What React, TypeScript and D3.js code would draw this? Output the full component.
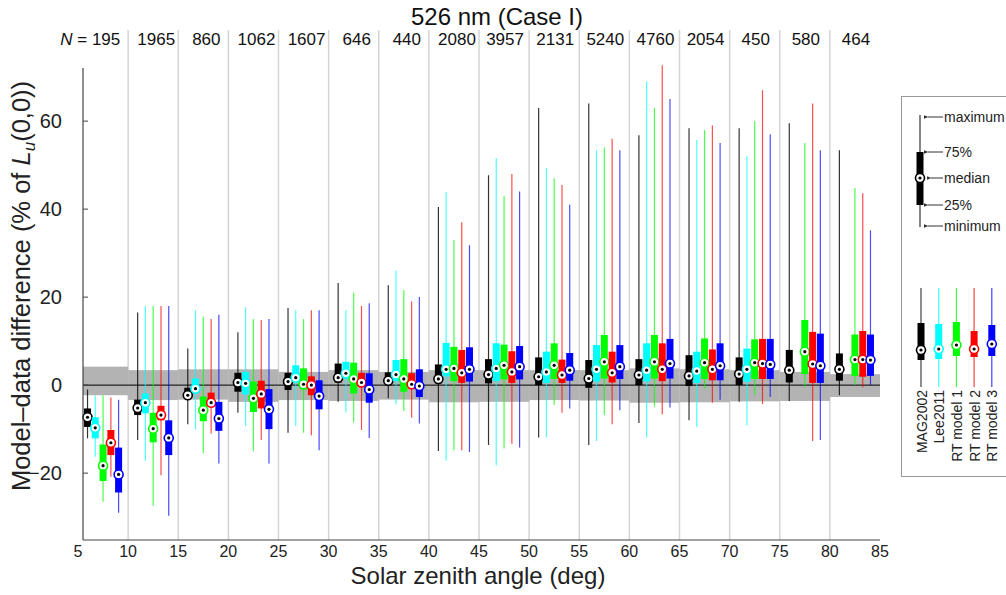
import React from 'react';
import * as d3 from 'd3';

const groupStarts = [5, 10, 15, 20, 25, 30, 35, 40, 45, 50, 55, 60, 65, 70, 75, 80];
const nLabels = ['195', '1965', '860', '1062', '1607', '646', '440', '2080', '3957', '2131', '5240', '4760', '2054', '450', '580', '464'];
const xTicks = [5, 10, 15, 20, 25, 30, 35, 40, 45, 50, 55, 60, 65, 70, 75, 80, 85];
const yTicks = [-20, 0, 20, 40, 60];
const models = ['MAG2002', 'Lee2011', 'RT model 1', 'RT model 2', 'RT model 3'];
const colors = ['#000000', '#00ffff', '#00ff00', '#ff0000', '#0000ff'];
const modelOffsets = [-1.55, -0.78, 0, 0.78, 1.55];

const bandLow = [-2.3, -3.4, -3.3, -3.8, -3.4, -3.6, -3.3, -3.9, -3.8, -3.4, -3.5, -4.0, -3.9, -3.7, -3.6, -2.7];
const bandHigh = [4.2, 3.4, 3.6, 3.6, 3.0, 3.4, 3.0, 3.4, 3.4, 3.4, 3.4, 3.8, 3.6, 3.4, 3.0, 2.5];

type Arr = (number | null)[];

// MAG2002
const magMed: Arr = [-7.3, -5.2, -2.3, 0.6, 0.8, 1.7, 1.0, 1.4, 2.4, 1.9, 1.5, 2.3, 2.1, 2.5, 3.4, 3.6];
const magQ1: Arr = [-9.5, -6.8, -2.8, -1.5, -1.1, 0.6, 0.2, 0.4, 0.4, 0.0, -0.6, 0.0, -0.2, 0.0, 0.6, 1.0];
const magQ3: Arr = [-5.3, -3.3, -0.6, 2.8, 2.8, 4.9, 2.9, 4.7, 5.9, 6.3, 5.7, 5.9, 6.8, 6.3, 8.0, 7.2];
const magMin: Arr = [-12.1, -12.5, -8.9, -6.3, -10.8, -3.8, -3.0, -15.0, -13.6, -11.9, -13.6, -8.6, -8.0, -3.8, -3.6, -2.3];
const magMax: Arr = [-1.0, 16.5, 8.3, 12.0, 17.5, 23.2, 22.7, 40.5, 47.7, 63.0, 64.0, 56.8, 58.4, 58.4, 59.5, 53.4];

// Lee2011
const leeMed: Arr = [-9.7, -4.0, -0.8, 0.4, 1.7, 2.7, 2.4, 3.6, 3.8, 3.0, 3.6, 3.4, 3.2, 3.6, null, null];
const leeQ1: Arr = [-12.1, -6.4, -1.7, -2.1, 0.8, 1.5, 0.9, 2.0, 0.9, 0.5, 0.8, 0.8, 0.5, 0.8, null, null];
const leeQ3: Arr = [-7.3, -1.9, 1.5, 3.0, 4.5, 5.3, 5.7, 9.6, 9.5, 7.6, 9.1, 9.5, 7.6, 8.3, null, null];
const leeMin: Arr = [-16.3, -17.2, -10.1, -9.3, -9.3, -6.2, -4.4, -17.2, -18.2, -11.9, -12.7, -11.9, -9.5, -9.1, null, null];
const leeMax: Arr = [-2.3, 18.0, 17.0, 17.7, 17.0, 17.0, 26.0, 43.9, 51.6, 49.3, 53.4, 69.0, 55.7, 52.0, null, null];

// RT model 1
const rt1Med: Arr = [-18.3, -9.9, -5.7, -3.0, 0.2, 1.4, 1.4, 3.8, 4.5, 4.5, 5.3, 5.3, 5.1, 5.1, 7.6, 5.8];
const rt1Q1: Arr = [-21.8, -13.0, -8.2, -6.1, -1.0, -1.9, -1.5, 0.9, 1.3, 1.4, 1.5, 1.5, 1.4, 1.4, 2.5, 2.1];
const rt1Q3: Arr = [-13.5, -6.3, -2.6, 0.8, 3.8, 5.1, 5.9, 8.7, 9.2, 9.5, 11.4, 11.4, 10.6, 10.4, 14.8, 11.5];
const rt1Min: Arr = [-26.5, -27.4, -15.5, -15.0, -10.8, -8.5, -5.9, -14.8, -14.4, -4.5, -6.8, -4.9, -0.8, -2.3, -0.5, 0.0];
const rt1Max: Arr = [-2.3, 18.0, 15.5, 15.0, 15.0, 21.0, 21.6, 33.0, 43.0, 47.0, 54.0, 63.0, 58.0, 60.0, 55.0, 44.8];

// RT model 2
const rt2Med: Arr = [-13.1, -6.8, -4.0, -2.0, 0.0, 0.6, 0.2, 2.8, 3.0, 2.3, 2.8, 3.6, 3.6, 4.9, 4.8, 5.8];
const rt2Q1: Arr = [-15.9, -8.0, -4.9, -5.3, -2.3, -0.4, -0.8, 0.5, 0.5, 0.5, 0.6, 0.9, 1.1, 1.4, 0.5, 1.9];
const rt2Q3: Arr = [-10.2, -4.7, -1.7, 1.0, 2.0, 2.8, 2.7, 8.0, 7.7, 5.8, 7.6, 9.5, 8.1, 10.5, 12.1, 12.3];
const rt2Min: Arr = [-20.8, -20.5, -11.0, -12.5, -11.4, -10.2, -7.4, -14.8, -13.3, -6.3, -8.9, -6.6, -4.0, -4.3, -12.7, -0.5];
const rt2Max: Arr = [-2.8, 18.0, 15.0, 14.8, 17.0, 18.0, 19.0, 37.0, 48.0, 45.5, 56.0, 72.7, 59.0, 67.0, 64.0, 43.6];

// RT model 3
const rt3Med: Arr = [-20.3, -12.0, -7.6, -5.5, -2.5, -1.0, -0.2, 3.6, 4.2, 3.4, 4.2, 4.9, 4.4, 4.7, 4.4, 5.7];
const rt3Q1: Arr = [-24.4, -15.9, -10.4, -10.0, -5.5, -4.0, -2.7, 0.8, 1.3, 1.0, 1.4, 1.5, 1.1, 1.4, 0.5, 2.1];
const rt3Q3: Arr = [-14.2, -8.0, -3.8, -0.9, 1.1, 2.7, 3.6, 8.6, 8.9, 7.3, 9.1, 10.5, 9.5, 10.5, 11.7, 11.5];
const rt3Min: Arr = [-29.0, -29.7, -17.8, -17.8, -14.8, -12.0, -8.7, -15.2, -14.2, -5.3, -5.7, -5.1, -3.3, -2.7, -12.5, 0.0];
const rt3Max: Arr = [-3.3, 18.0, 16.0, 15.0, 17.0, 18.6, 20.0, 31.8, 44.0, 41.0, 53.4, 65.0, 55.0, 57.0, 53.4, 35.2];

const seriesMed = [magMed, leeMed, rt1Med, rt2Med, rt3Med];
const seriesQ1 = [magQ1, leeQ1, rt1Q1, rt2Q1, rt3Q1];
const seriesQ3 = [magQ3, leeQ3, rt1Q3, rt2Q3, rt3Q3];
const seriesMin = [magMin, leeMin, rt1Min, rt2Min, rt3Min];
const seriesMax = [magMax, leeMax, rt1Max, rt2Max, rt3Max];

// legend sample stats (schematic)
const legendStats = ['maximum', '75%', 'median', '25%', 'minimum'];
const legendSample = { min: 227, q1: 205, med: 178, q3: 152, max: 115 };
const legendMini = [
  { q3: 323, q1: 360, med: 350 },
  { q3: 324, q1: 359, med: 349 },
  { q3: 322, q1: 356, med: 345 },
  { q3: 331, q1: 357, med: 349 },
  { q3: 325, q1: 356, med: 344 },
];

const W = 1006;
const H = 595;
const FONT = "'Liberation Sans', Arial, Helvetica, sans-serif";

const x = d3.scaleLinear().domain([5, 85]).range([78, 880]);
const y = d3.scaleLinear().domain([-35.2, 72]).range([540, 68.32]);

const BOX_W = 7;

function Marker({ cx, cy, color }: { cx: number; cy: number; color: string }) {
  return (
    <g>
      <circle cx={cx} cy={cy} r={4.5} fill="#fff" stroke={color} strokeWidth={1.6} />
      <circle cx={cx} cy={cy} r={1.6} fill="#000" />
    </g>
  );
}

export default function App() {
  const axisLeft = x(5.5);
  const axisRight = x(85);
  const fmt = (v: number) => (v < 0 ? '\u2212' + Math.abs(v) : String(v));

  return (
    <svg width={W} height={H} style={{ position: 'absolute', left: 0, top: 0, background: '#fff' }} fontFamily={FONT}>
      <rect x={0} y={0} width={W} height={H} fill="#fff" />
      {/* title */}
      <text x={497} y={25} fontSize={24} textAnchor="middle" fill="#111">526 nm (Case I)</text>

      {/* group separators */}
      {groupStarts.slice(1).map((g) => (
        <line key={'gl' + g} x1={x(g)} x2={x(g)} y1={30} y2={540} stroke="#d4d4d4" strokeWidth={1.5} />
      ))}

      {/* N labels */}
      {nLabels.map((n, i) => {
        const cx = x(groupStarts[i] + 2.5) + (i < 8 ? 3 : 1);
        return (
          <text key={'n' + i} x={cx} y={45} fontSize={17} textAnchor="middle" fill="#111">
            {n}
          </text>
        );
      })}
      <text x={x(7.5) - 16} y={45} fontSize={17} textAnchor="end" fill="#111">
        <tspan fontStyle="italic">N</tspan> =
      </text>

      {/* grey band */}
      {groupStarts.map((g, i) => {
        const x0 = i === 0 ? axisLeft : x(g);
        const x1 = x(g + 5);
        return (
          <rect key={'b' + i} x={x0} y={y(bandHigh[i])} width={x1 - x0} height={y(bandLow[i]) - y(bandHigh[i])} fill="#b3b3b3" />
        );
      })}

      {/* zero line */}
      <line x1={axisLeft} x2={axisRight} y1={y(0)} y2={y(0)} stroke="#000" strokeWidth={1} />

      {/* boxes */}
      {groupStarts.map((g, gi) =>
        models.map((m, mi) => {
          const med = seriesMed[mi][gi];
          if (med == null) return null;
          const q1 = seriesQ1[mi][gi] as number;
          const q3 = seriesQ3[mi][gi] as number;
          const mn = seriesMin[mi][gi] as number;
          const mx = seriesMax[mi][gi] as number;
          const cx = x(g + 2.5 + modelOffsets[mi]);
          const c = colors[mi];
          return (
            <g key={'bx' + gi + '-' + mi}>
              <line x1={cx} x2={cx} y1={y(mn)} y2={y(mx)} stroke={c} strokeWidth={1.2} strokeOpacity={mi === 0 ? 0.8 : 0.7} />
              <rect x={cx - BOX_W / 2} y={y(q3)} width={BOX_W} height={y(q1) - y(q3)} fill={c} />
              <Marker cx={cx} cy={y(med)} color={c} />
            </g>
          );
        })
      )}

      {/* axes */}
      <line x1={axisLeft} x2={axisLeft} y1={68} y2={540} stroke="#444" strokeWidth={1.2} />
      <line x1={axisLeft} x2={axisRight} y1={540} y2={540} stroke="#444" strokeWidth={1.2} />
      {yTicks.map((t) => (
        <g key={'yt' + t}>
          <line x1={axisLeft} x2={axisLeft + 5} y1={y(t)} y2={y(t)} stroke="#444" strokeWidth={1} />
          <text x={62} y={y(t) + 7} fontSize={20} textAnchor="end" fill="#222">{fmt(t)}</text>
        </g>
      ))}
      {xTicks.map((t) => (
        <text key={'xt' + t} x={x(t)} y={557} fontSize={16} textAnchor="middle" fill="#222">{t}</text>
      ))}

      {/* axis labels */}
      <text x={478} y={584} fontSize={24} textAnchor="middle" fill="#222">Solar zenith angle (deg)</text>
      <text transform="translate(30,286) rotate(-90)" fontSize={25.5} textAnchor="middle" fill="#222">
        Model–data difference (% of <tspan fontStyle="italic">L</tspan>
        <tspan fontStyle="italic" fontSize={17} dy={5}>u</tspan>
        <tspan dy={-5}>(0,0))</tspan>
      </text>

      {/* legend */}
      <rect x={901.5} y={96.5} width={120} height={380} fill="#fff" stroke="#999" strokeWidth={1} />
      <defs>
        <marker id="arrowL" viewBox="0 0 10 10" refX={1} refY={5} markerWidth={5} markerHeight={5} orient="auto-start-reverse">
          <path d="M0,5 L10,1 L10,9 Z" fill="#333" />
        </marker>
      </defs>
      <line x1={920} x2={920} y1={legendSample.max} y2={legendSample.min} stroke="#333" strokeWidth={1.2} />
      <rect x={920 - BOX_W / 2} y={legendSample.q3} width={BOX_W} height={legendSample.q1 - legendSample.q3} fill="#000" />
      <Marker cx={920} cy={legendSample.med} color="#000" />
      {legendStats.map((s, i) => {
        const yy = [legendSample.max + 2, legendSample.q3, legendSample.med, legendSample.q1, legendSample.min - 1][i];
        const x0 = i === 2 ? 928 : 925;
        return (
          <g key={'ls' + s}>
            <line x1={943} x2={x0 + 3} y1={yy} y2={yy} stroke="#333" strokeWidth={1} markerEnd="url(#arrowL)" />
            <text x={944} y={yy + 5} fontSize={14} fill="#222">{s}</text>
          </g>
        );
      })}
      {models.map((m, i) => {
        const cx = 921 + i * 17.7;
        const s = legendMini[i];
        return (
          <g key={'lm' + m}>
            <line x1={cx} x2={cx} y1={288} y2={387} stroke={colors[i]} strokeWidth={1.2} strokeOpacity={0.75} />
            <rect x={cx - BOX_W / 2} y={s.q3} width={BOX_W} height={s.q1 - s.q3} fill={colors[i]} />
            <Marker cx={cx} cy={s.med} color={colors[i]} />
            <text transform={`translate(${cx + 5.5},390) rotate(-90)`} fontSize={14} textAnchor="end" fill="#222">{m}</text>
          </g>
        );
      })}
    </svg>
  );
}
